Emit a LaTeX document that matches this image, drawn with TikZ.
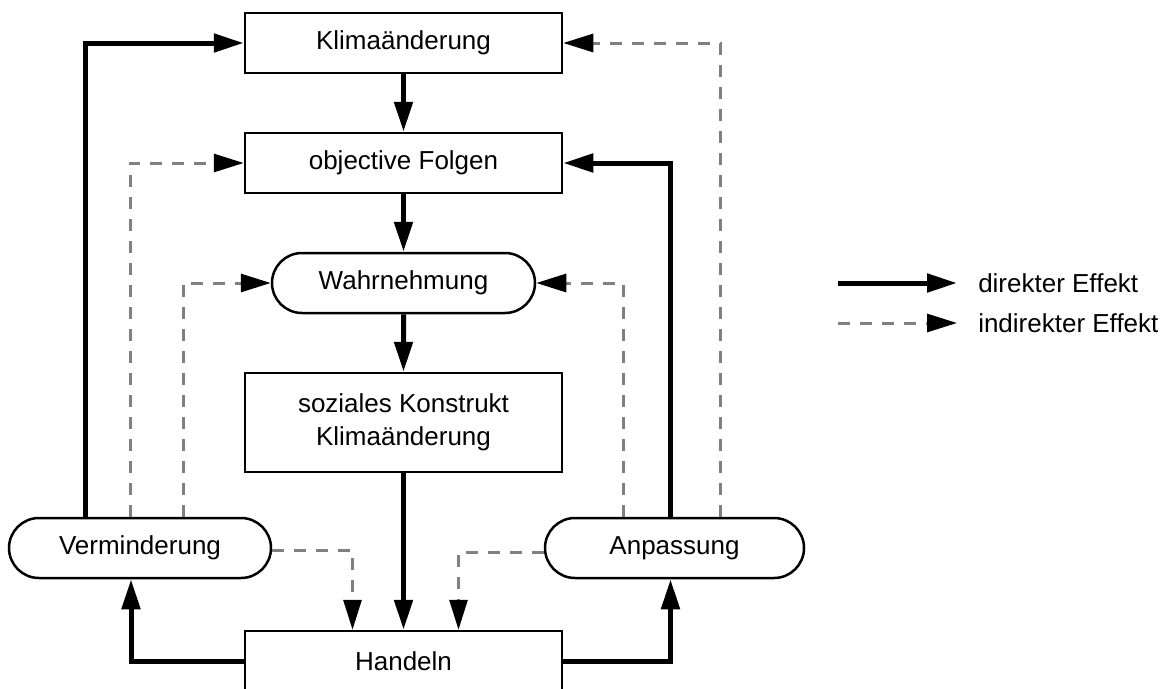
\documentclass[tikz,border=0pt]{standalone}
\usepackage{fontspec}
\setmainfont{Liberation Sans}
\usetikzlibrary{arrows.meta,shapes.misc}
\definecolor{dashgray}{RGB}{128,128,128}
\begin{document}
\begin{tikzpicture}[x=1pt,y=1pt,
  every node/.style={font=\fontsize{26pt}{33pt}\selectfont, inner sep=0pt, line width=2.5pt, draw=black},
  boxnode/.style={rectangle, minimum width=317pt, minimum height=60pt},
  roundnode/.style={rounded rectangle, minimum height=60pt},
  legtext/.style={draw=none, anchor=west},
  tip/.style={-{Triangle[length=30pt,width=18pt,black]}},
  direct/.style={tip, line width=5pt, black},
  indirect/.style={tip, line width=3pt, dashgray, dash pattern=on 12pt off 10pt}
]
\useasboundingbox (0,0) rectangle (1169,-688);
\node[boxnode] (klima) at (403.5,-43) {Klimaänderung};
\node[boxnode] (folgen) at (403.5,-163) {objective Folgen};
\node[roundnode, minimum width=263pt] (wahr) at (403.5,-283) {Wahrnehmung};
\node[boxnode, minimum height=99pt, align=center] (sozial) at (403.5,-422.5) {soziales Konstrukt\\Klimaänderung};
\node[boxnode] (handeln) at (403.5,-661) {Handeln};
\node[roundnode, minimum width=262pt] (verm) at (140,-548) {Verminderung};
\node[roundnode, minimum width=259pt] (anp) at (674.5,-548) {Anpassung};

% vertical chain
\draw[direct] (klima) -- (folgen);
\draw[direct] (folgen) -- (wahr);
\draw[direct] (wahr) -- (sozial);
\draw[direct] (sozial) -- (handeln);

% left side
\draw[direct] ([xshift=-55pt]verm.north) |- (klima.west);
\draw[indirect] ([xshift=-10pt]verm.north) |- (folgen.west);
\draw[indirect] ([xshift=43pt]verm.north) |- (wahr.west);

% right side
\draw[direct] ([xshift=-4pt]anp.north) |- (folgen.east);
\draw[indirect] ([xshift=-51pt]anp.north) |- (wahr.east);
\draw[indirect] ([xshift=46pt]anp.north) |- (klima.east);

% bottom
\draw[direct] (handeln.west) -| ([xshift=-9pt]verm.south);
\draw[direct] (handeln.east) -| ([xshift=-4pt]anp.south);
\draw[indirect] ([yshift=-2pt]verm.east) -| ([xshift=-51pt]handeln.north);
\draw[indirect] ([yshift=-4pt]anp.west) -| ([xshift=55pt]handeln.north);

% legend
\coordinate (l1a) at (838,-283);
\coordinate (l1b) at (957,-283);
\coordinate (l2a) at (838,-323);
\coordinate (l2b) at (957,-323);
\draw[direct] (l1a) -- (l1b);
\draw[indirect] (l2a) -- (l2b);
\node[legtext] (t1) at (977,-283) {direkter Effekt};
\node[legtext] (t2) at (977,-323) {indirekter Effekt};
\end{tikzpicture}
\end{document}
